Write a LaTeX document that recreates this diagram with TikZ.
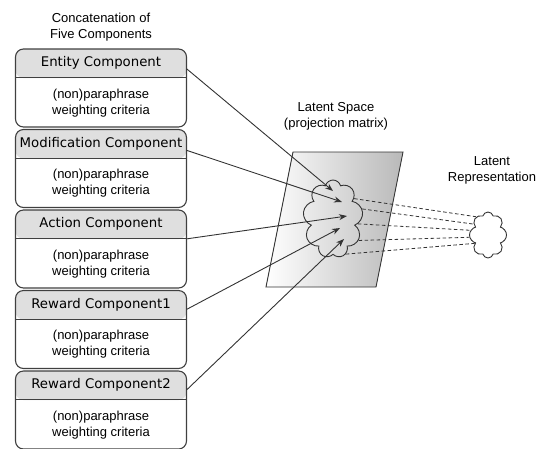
\documentclass[tikz,border=0pt]{standalone}
\usepackage{fontspec}
\setmainfont{Liberation Sans}
\newfontfamily\headfont{DejaVu Sans}
\usetikzlibrary{shapes.symbols,arrows.meta}

\begin{document}
\begin{tikzpicture}[x=1pt,y=-1pt,
  cbox/.style={draw=black!75,line width=1.1pt,rounded corners=8pt,minimum width=171pt,
    minimum height=78pt,inner sep=0pt,
    path picture={\fill[gray!25] (path picture bounding box.north west)
      rectangle ([yshift=-29pt]path picture bounding box.north east);}},
  chead/.style={minimum width=171pt,minimum height=29pt,inner sep=0pt,
    font=\headfont\fontsize{13.3}{15}\selectfont},
  ctext/.style={align=center,font=\fontsize{13}{16}\selectfont},
  lbl/.style={align=center,font=\fontsize{13}{16}\selectfont},
  blob/.style={cloud,cloud puffs=9,draw=black!80,line width=0.9pt,inner sep=0pt},
  arr/.style={line width=0.9pt,black!80,-{Stealth[length=8pt,width=6pt]}},
  proj/.style={black!80,line width=0.8pt,dash pattern=on 3.5pt off 2.5pt}]
 \useasboundingbox (0,0) rectangle (537,448);
 \foreach \i/\nm in {1/Entity Component,2/Modification Component,
     3/Action Component,4/Reward Component1,5/Reward Component2}{
   \pgfmathsetmacro\by{49+80.5*(\i-1)}
   \node[cbox] (c\i) at (101,\by+39) {};
   \node[chead,anchor=north] (h\i) at (c\i.north) {\nm};
   \draw[line width=1.1pt,black!75] (h\i.south west) -- (h\i.south east);
   \node[ctext] (t\i) at (101,\by+54) {(non)paraphrase\\weighting criteria};}
 \node[lbl] (ttl) at (101,27) {Concatenation of\\Five Components};
 \shade[left color=white,right color=gray!55,draw=black!80,line width=0.9pt]
   (293,152) -- (403,152) -- (376,287) -- (266,287) -- cycle;
 \node[lbl] (lsp) at (336,116) {Latent Space\\(projection matrix)};
 \node[blob,minimum width=60pt,minimum height=78pt] (lat) at (333,219) {};
 \node[blob,cloud puffs=8,fill=white,minimum width=37pt,minimum height=46pt] (rep) at (488,235) {};
 \node[lbl] (lrep) at (492,170) {Latent\\Representation};
 \foreach \i/\d/\px/\py in {1/9/333/191,2/8/342/202,3/0/347/216,4/10/340/228,5/10/344/239}{
   \coordinate (p\i) at (\px,\py);
   \draw[arr] ([yshift=\d pt]h\i.south east) -- (p\i);}
 \foreach \a/\b in {44/123,19/143,-11/165,-40/187,-70/212}
   \draw[proj] (lat.\a) -- (rep.\b);
\end{tikzpicture}
\end{document}
